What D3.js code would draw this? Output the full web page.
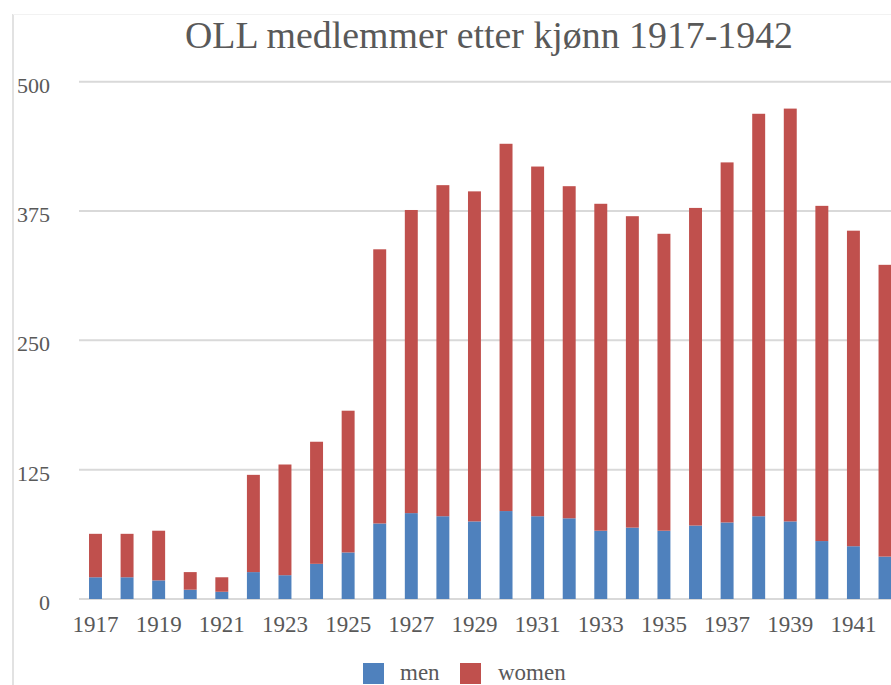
<!DOCTYPE html>
<html>
<head>
<meta charset="utf-8">
<title>OLL medlemmer etter kjønn 1917-1942</title>
<script src="https://cdnjs.cloudflare.com/ajax/libs/d3/7.8.5/d3.min.js"></script>
<style>
	body { margin: 0; background: #fff; }
	svg { display: block; }
	.label { font-family: "Liberation Serif", "DejaVu Serif", serif; fill: #595959; }
</style>
</head>
<body>
<script>
//chart data: years, men and women members
var years = ["1917","1918","1919","1920","1921","1922","1923","1924","1925","1926","1927","1928","1929",
	"1930","1931","1932","1933","1934","1935","1936","1937","1938","1939","1940","1941","1942"];
var men = [21,21,18,9,7,26,23,34,45,73,83,80,75,85,80,78,66,69,66,71,74,80,75,56,51,41];
var women = [42,42,48,17,14,94,107,118,137,265,293,320,319,355,338,321,316,301,287,307,348,389,399,324,305,282];
var yTicks = [0,125,250,375,500];
var seriesNames = ["men","women"];
var seriesColors = ["#4F81BD","#C0504D"];

window.onload = drawChart;

function drawChart(){

	//frame dimensions
	var width = 891,
		height = 685;

	var svg = d3.select("body")
		.append("svg")
		.attr("width", width)
		.attr("height", height);

	//chart border (cropped chart area)
	svg.append("line")
		.attr("x1", 13).attr("x2", 13)
		.attr("y1", 14).attr("y2", height)
		.attr("stroke", "#d9d9d9").attr("stroke-width", 1.5);
	svg.append("line")
		.attr("x1", 13).attr("x2", width)
		.attr("y1", 14.5).attr("y2", 14.5)
		.attr("stroke", "#f2f2f2").attr("stroke-width", 1);

	//scales - the plot runs past the right edge like the original
	var x = d3.scaleBand()
		.domain(years)
		.range([79.7, 900.8])
		.paddingInner(0.59)
		.paddingOuter(0.295);

	var y = d3.scaleLinear()
		.domain([0, 500])
		.range([599, 81.7]);

	//gridlines
	svg.selectAll(".grid")
		.data(yTicks)
		.enter()
		.append("line")
		.attr("class", "grid")
		.attr("x1", 79).attr("x2", width)
		.attr("y1", function(d){ return y(d); })
		.attr("y2", function(d){ return y(d); })
		.attr("stroke", "#d9d9d9")
		.attr("stroke-width", 2);

	//y tick labels
	svg.selectAll(".ylab")
		.data(yTicks)
		.enter()
		.append("text")
		.attr("class", "label ylab")
		.attr("x", 50)
		.attr("y", function(d){ return y(d) + 11; })
		.attr("text-anchor", "end")
		.style("font-size", "22px")
		.text(function(d){ return d; });

	//stack the two series
	var rows = years.map(function(yr, i){ return { year: yr, men: men[i], women: women[i] }; });
	var stack = d3.stack().keys(seriesNames)(rows);

	svg.selectAll(".series")
		.data(stack)
		.enter()
		.append("g")
		.attr("class", "series")
		.attr("fill", function(d, i){ return seriesColors[i]; })
		.selectAll("rect")
		.data(function(d){ return d; })
		.enter()
		.append("rect")
		.attr("x", function(d){ return x(d.data.year); })
		.attr("width", x.bandwidth())
		.attr("y", function(d){ return y(d[1]); })
		.attr("height", function(d){ return y(d[0]) - y(d[1]); });

	//x labels, every second year
	svg.selectAll(".xlab")
		.data(years.filter(function(d, i){ return i % 2 == 0; }))
		.enter()
		.append("text")
		.attr("class", "label xlab")
		.attr("x", function(d){ return x(d) + x.bandwidth() / 2; })
		.attr("y", 632)
		.attr("text-anchor", "middle")
		.style("font-size", "23px")
		.text(function(d){ return d; });

	//title
	svg.append("text")
		.attr("class", "label")
		.attr("x", 489)
		.attr("y", 48)
		.attr("text-anchor", "middle")
		.attr("textLength", 608)
		.attr("lengthAdjust", "spacingAndGlyphs")
		.style("font-size", "37px")
		.text("OLL medlemmer etter kjønn 1917-1942");

	//legend
	var legendX = [363, 460];
	var legend = svg.selectAll(".legend")
		.data(seriesNames)
		.enter()
		.append("g")
		.attr("class", "legend")
		.attr("transform", function(d, i){ return "translate(" + legendX[i] + ",663)"; });

	legend.append("rect")
		.attr("width", 21)
		.attr("height", 21)
		.attr("fill", function(d, i){ return seriesColors[i]; });

	legend.append("text")
		.attr("class", "label")
		.attr("x", function(d, i){ return i == 0 ? 37 : 38; })
		.attr("y", 17)
		.style("font-size", "23px")
		.text(function(d){ return d; });
};
</script>
</body>
</html>
